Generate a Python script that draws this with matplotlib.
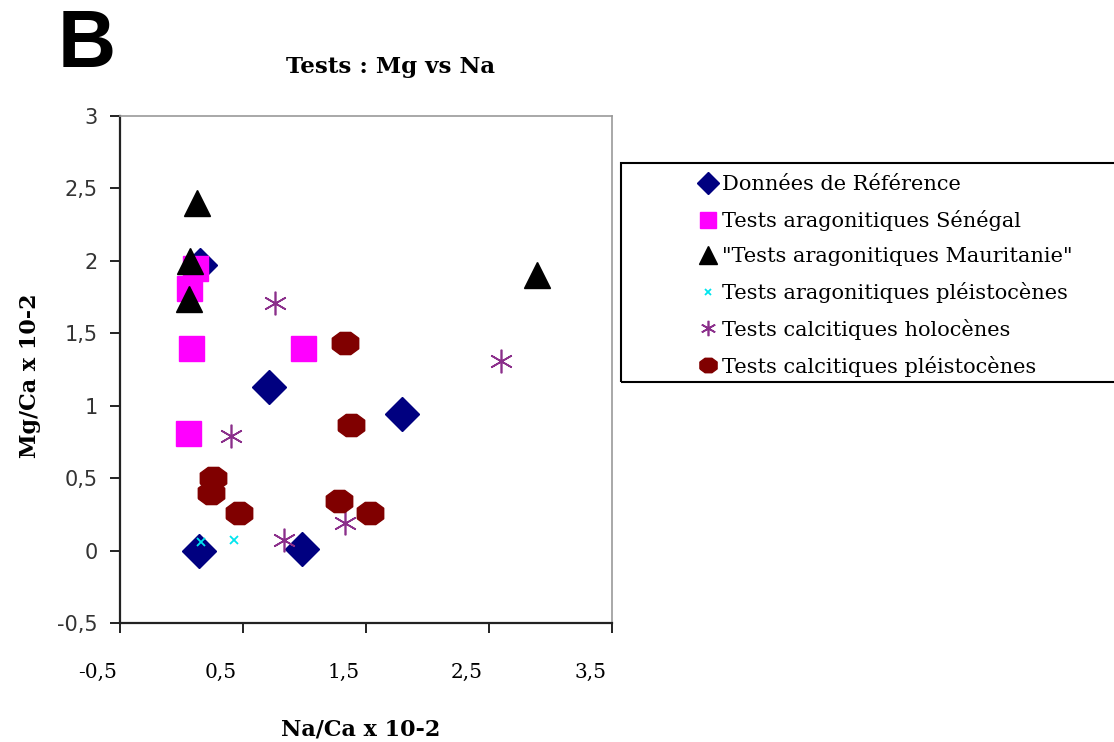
import matplotlib.pyplot as plt
import matplotlib.transforms as mtransforms
from matplotlib.patches import Rectangle

# values (Na/Ca x 10-2, Mg/Ca x 10-2)
ref_x = [0.15, 0.71, 1.79, 0.14, 0.98]
ref_y = [1.97, 1.13, 0.94, 0.00, 0.01]

sen_x = [0.11, 0.06, 0.08, 0.99, 0.05]
sen_y = [1.95, 1.81, 1.40, 1.40, 0.81]

mau_x = [0.13, 0.07, 0.06, 2.89]
mau_y = [2.40, 2.00, 1.74, 1.90]

arag_pl_x = [0.16, 0.43]
arag_pl_y = [0.06, 0.07]

hol_x = [0.76, 0.40, 2.60, 0.83, 1.33]
hol_y = [1.71, 0.79, 1.31, 0.07, 0.19]

calc_pl_x = [1.33, 1.38, 0.26, 0.24, 0.47, 1.28, 1.53]
calc_pl_y = [1.43, 0.87, 0.50, 0.40, 0.26, 0.34, 0.26]

labels = ['Données de Référence', 'Tests aragonitiques Sénégal',
          '"Tests aragonitiques Mauritanie"', 'Tests aragonitiques pléistocènes',
          'Tests calcitiques holocènes', 'Tests calcitiques pléistocènes']

x_ticks = [-0.5, 0.5, 1.5, 2.5, 3.5]
x_ticklabels = ['-0,5', '0,5', '1,5', '2,5', '3,5']
y_ticks = [-0.5, 0, 0.5, 1, 1.5, 2, 2.5, 3]
y_ticklabels = ['-0,5', '0', '0,5', '1', '1,5', '2', '2,5', '3']

# the excel export is stretched sideways, a wide serif fits it better than Times
serif = 'DejaVu Serif'

W, H = 1114, 742
fig = plt.figure(figsize=(W / 100, H / 100), dpi=100)
ax = fig.add_axes([120 / W, 1 - 623 / H, (612 - 120) / W, (623 - 116) / H])

# slightly wide octagon like the excel marker
octo = [(-0.5, -0.2), (-0.5, 0.2), (-0.2, 0.42), (0.2, 0.42), (0.5, 0.2),
        (0.5, -0.2), (0.2, -0.42), (-0.2, -0.42), (-0.5, -0.2)]

h1, = ax.plot(ref_x, ref_y, 'D', color='#000080', ms=17, ls='none')
h2, = ax.plot(sen_x, sen_y, 's', color='#ff00ff', ms=18, ls='none')
h3, = ax.plot(mau_x, mau_y, '^', color='black', ms=19, ls='none')
h4, = ax.plot(arag_pl_x, arag_pl_y, 'x', color='#00e5ee', ms=6, mew=1.3, ls='none')
h5, = ax.plot(hol_x, hol_y, marker=(6, 2, 0), color='#8b2f8b', ms=17, mew=1.2, ls='none')
h6, = ax.plot(calc_pl_x, calc_pl_y, marker=octo, color='#800000', ms=19, ls='none')

ax.set_xlim(-0.5, 3.5)
ax.set_ylim(-0.5, 3)
ax.set_xticks(x_ticks)
ax.set_xticklabels(x_ticklabels, fontfamily=serif, fontsize=14.5)
ax.set_yticks(y_ticks)
ax.set_yticklabels(y_ticklabels, fontfamily='DejaVu Sans', fontsize=15, color='#333333')
ax.tick_params(axis='both', direction='out', length=7, width=1.4, color='#222222')
ax.tick_params(axis='x', pad=22)
ax.tick_params(axis='y', pad=9)

# excel puts the x labels a bit left of the ticks
shift = mtransforms.ScaledTranslation(-0.22, 0, fig.dpi_scale_trans)
for lab in ax.get_xticklabels():
    lab.set_transform(lab.get_transform() + shift)

for s in ['left', 'bottom']:
    ax.spines[s].set_color('#222222')
    ax.spines[s].set_linewidth(1.6)
for s in ['top', 'right']:
    ax.spines[s].set_color('#999999')
    ax.spines[s].set_linewidth(1.2)

fig.text(390 / W, 1 - 67 / H, 'Tests : Mg vs Na', fontfamily=serif, fontweight='bold',
         fontsize=16.5, ha='center', va='center')
fig.text(361 / W, 1 - 730 / H, 'Na/Ca x 10-2', fontfamily=serif, fontweight='bold',
         fontsize=16, ha='center', va='center')
fig.text(30 / W, 1 - 376 / H, 'Mg/Ca x 10-2', fontfamily=serif, fontweight='bold',
         fontsize=16, ha='center', va='center', rotation=90)
fig.text(58 / W, 1 - 46 / H, 'B', fontfamily='Liberation Sans', fontweight='bold',
         fontsize=58, ha='left', va='center')

# legend box
fig.patches.append(Rectangle((621 / W, 1 - 382 / H), 0.5, (382 - 163) / H,
                             transform=fig.transFigure, fill=False,
                             edgecolor='black', linewidth=1.5))
fig.legend([h1, h2, h3, h4, h5, h6], labels, loc='upper left',
           bbox_to_anchor=(687 / W, 1 - 165 / H), bbox_transform=fig.transFigure,
           frameon=False, borderpad=0, handlelength=1.0, handletextpad=0.2,
           labelspacing=0.76, markerscale=0.65, prop={'family': serif, 'size': 15})

fig.savefig('out.png', dpi=100)
